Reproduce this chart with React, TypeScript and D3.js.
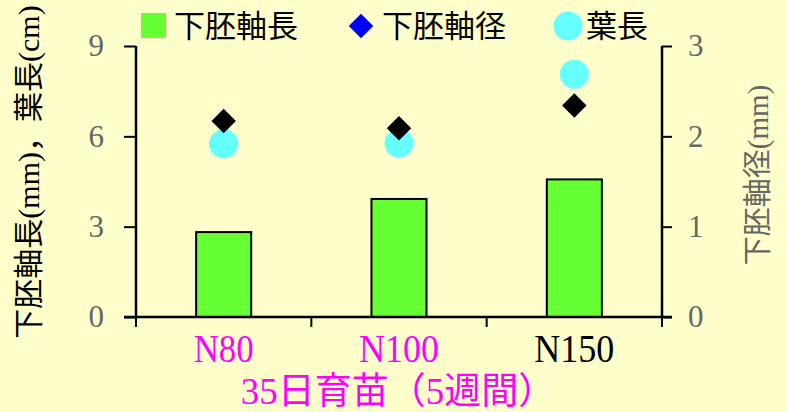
import React, { useEffect, useRef } from "react";
import * as d3 from "d3";

const categories = ["N80", "N100", "N150"];
const categoryColors = ["#ff00ff", "#ff00ff", "#000000"];
const hypocotylLength = [2.82, 3.92, 4.57]; // 下胚軸長 (mm), left axis
const hypocotylDiameter = [2.17, 2.09, 2.34]; // 下胚軸径 (mm), right axis
const leafLength = [5.75, 5.77, 8.06]; // 葉長 (cm), left axis
const leftTicks = [0, 3, 6, 9];
const rightTicks = [0, 1, 2, 3];

const W = 787;
const H = 412;
const SERIF = "'Liberation Serif', 'Times New Roman', 'DejaVu Serif', 'Noto Sans CJK JP', serif";

const App = () => {
  const svgRef = useRef<SVGSVGElement>(null);

  useEffect(() => {
    const svg = d3.select(svgRef.current);
    svg.selectAll("*").remove();

    const left = 136;
    const right = 662;
    const top = 46;
    const bottom = 317;

    const x = d3.scaleBand<string>()
      .domain(categories)
      .range([left, right])
      .paddingInner(0.686)
      .paddingOuter(0.343);
    const yL = d3.scaleLinear().domain([0, 9]).range([bottom, top]);
    const yR = d3.scaleLinear().domain([0, 3]).range([bottom, top]);

    svg.append("rect").attr("width", W).attr("height", H).attr("fill", "#ffffcc");

    // bars
    svg.selectAll("rect.bar")
      .data(hypocotylLength)
      .join("rect")
      .attr("class", "bar")
      .attr("x", (_, i) => x(categories[i])!)
      .attr("y", (d) => yL(d))
      .attr("width", x.bandwidth())
      .attr("height", (d) => bottom - yL(d))
      .attr("fill", "#66ff33")
      .attr("stroke", "#000")
      .attr("stroke-width", 2);

    const cx = (i: number) => x(categories[i])! + x.bandwidth() / 2;

    // leaf length circles
    svg.selectAll("circle.leaf")
      .data(leafLength)
      .join("circle")
      .attr("class", "leaf")
      .attr("cx", (_, i) => cx(i))
      .attr("cy", (d) => yL(d))
      .attr("r", 14.5)
      .attr("fill", "#66ffff");

    // diameter diamonds
    const diamond = d3.symbol().type(d3.symbolSquare).size(300);
    svg.selectAll("path.dia")
      .data(hypocotylDiameter)
      .join("path")
      .attr("class", "dia")
      .attr("d", diamond)
      .attr("transform", (d, i) => `translate(${cx(i)},${yR(d)}) rotate(45)`)
      .attr("fill", "#000");

    // axes
    const axL = svg.append("g")
      .attr("transform", `translate(${left},0)`)
      .call(d3.axisLeft(yL).tickValues(leftTicks).tickSize(12).tickPadding(20).tickFormat(d3.format("d")));
    const axR = svg.append("g")
      .attr("transform", `translate(${right},0)`)
      .call(d3.axisRight(yR).tickValues(rightTicks).tickSize(10).tickPadding(16).tickFormat(d3.format("d")));
    [axL, axR].forEach((ax) => {
      ax.select(".domain").remove();
      ax.selectAll("line").attr("stroke", "#000").attr("stroke-width", 2);
      ax.selectAll("text")
        .attr("font-family", SERIF)
        .attr("font-size", 31)
        .attr("fill", "#666");
    });
    svg.append("line").attr("x1", left).attr("x2", left).attr("y1", top).attr("y2", bottom + 1)
      .attr("stroke", "#000").attr("stroke-width", 2.5);
    svg.append("line").attr("x1", right).attr("x2", right).attr("y1", top).attr("y2", bottom + 1)
      .attr("stroke", "#000").attr("stroke-width", 2.5);
    svg.append("line").attr("x1", left - 12).attr("x2", right + 10).attr("y1", bottom).attr("y2", bottom)
      .attr("stroke", "#000").attr("stroke-width", 2.5);

    // category separators below axis
    const step = x.step();
    d3.range(categories.length + 1).forEach((i) => {
      const xx = left + i * step;
      svg.append("line").attr("x1", xx).attr("x2", xx).attr("y1", bottom).attr("y2", bottom + 10)
        .attr("stroke", "#000").attr("stroke-width", 2);
    });

    // category labels
    categories.forEach((c, i) => {
      svg.append("text")
        .attr("x", cx(i))
        .attr("y", 362)
        .attr("text-anchor", "middle")
        .attr("font-family", SERIF)
        .attr("font-size", 40)
        .attr("textLength", c.length * 20)
        .attr("lengthAdjust", "spacingAndGlyphs")
        .attr("fill", categoryColors[i])
        .text(c);
    });

    // x title
    svg.append("text")
      .attr("x", 398)
      .attr("y", 404)
      .attr("text-anchor", "middle")
      .attr("font-family", SERIF)
      .attr("font-size", 37)
      .attr("fill", "#ff00ff")
      .text("35日育苗（5週間）");

    // y titles
    svg.append("text")
      .attr("transform", `translate(39,172) rotate(-90)`)
      .attr("text-anchor", "middle")
      .attr("font-family", SERIF)
      .attr("font-size", 30)
      .attr("fill", "#000")
      .text("下胚軸長(mm)，葉長(cm)");
    svg.append("text")
      .attr("transform", `translate(768,175) rotate(-90)`)
      .attr("text-anchor", "middle")
      .attr("font-family", SERIF)
      .attr("font-size", 29)
      .attr("fill", "#666")
      .text("下胚軸径(mm)");

    // legend
    const legend = svg.append("g").attr("font-family", SERIF).attr("font-size", 31).attr("fill", "#000");
    legend.append("rect").attr("x", 141).attr("y", 13).attr("width", 25).attr("height", 25).attr("fill", "#66ff33");
    legend.append("text").attr("x", 174).attr("y", 37).text("下胚軸長");
    legend.append("path").attr("d", d3.symbol().type(d3.symbolSquare).size(300)())
      .attr("transform", "translate(361,26) rotate(45)").attr("fill", "#0000ff");
    legend.append("text").attr("x", 382).attr("y", 37).text("下胚軸径");
    legend.append("circle").attr("cx", 568).attr("cy", 26).attr("r", 14.5).attr("fill", "#66ffff");
    legend.append("text").attr("x", 586).attr("y", 37).text("葉長");
  }, []);

  return (
    <svg
      ref={svgRef}
      width={W}
      height={H}
      style={{ position: "absolute", left: 0, top: 0 }}
    />
  );
};

export default App;
